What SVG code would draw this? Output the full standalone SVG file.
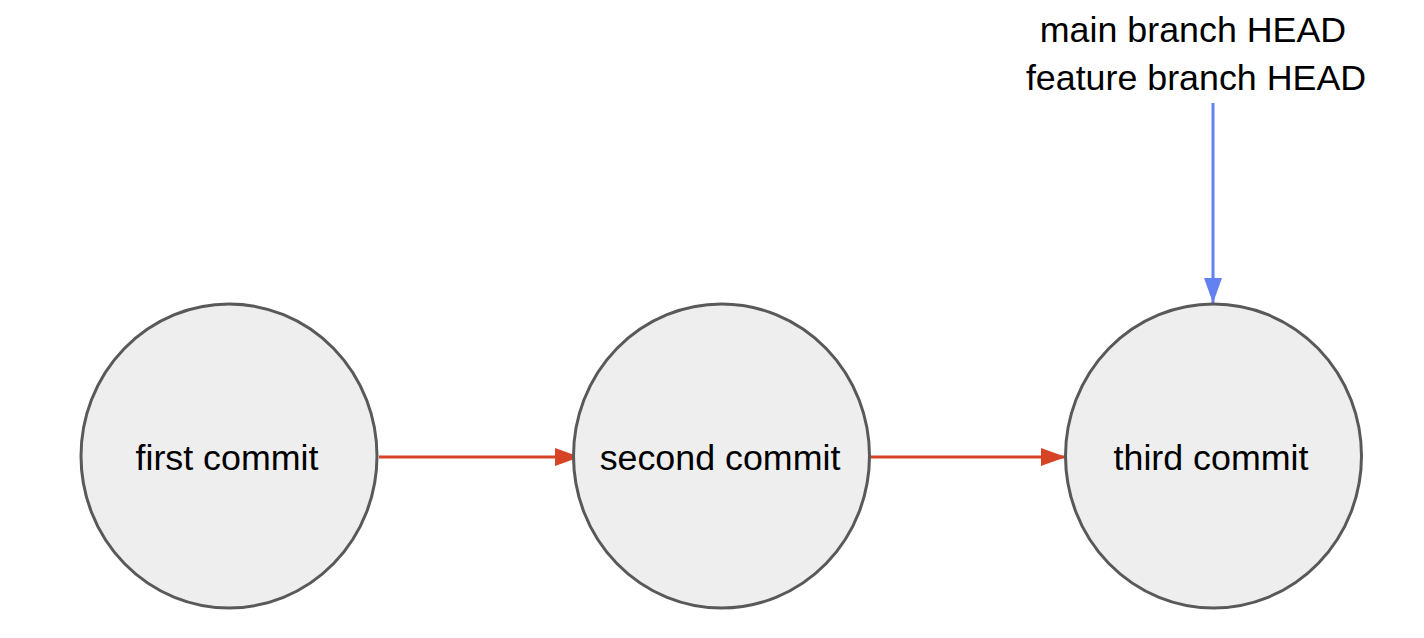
<svg xmlns="http://www.w3.org/2000/svg" width="1424" height="638" viewBox="0 0 1424 638">
<style>
.node ellipse{fill:#eeeeee;stroke:#595959;stroke-width:3}
text{font-family:"Liberation Sans",Arial,sans-serif;font-size:35.8px;fill:#000;text-anchor:middle}
.red{stroke:#d64325;stroke-width:3;fill:none}
.blue{stroke:#6381f0;stroke-width:3;fill:none}
</style>
<defs>
<marker id="ahRed" markerUnits="userSpaceOnUse" markerWidth="26" markerHeight="20" refX="25" refY="10" orient="auto">
<path d="M0,1 L25,10 L0,19 Z" fill="#d64325"/>
</marker>
<marker id="ahBlue" markerUnits="userSpaceOnUse" markerWidth="26" markerHeight="20" refX="25" refY="10" orient="auto">
<path d="M0,1 L25,10 L0,19 Z" fill="#6381f0"/>
</marker>
</defs>
<rect width="1424" height="638" fill="#fff"/>
<g id="connectors">
<line class="red" x1="379" y1="457" x2="580" y2="457" marker-end="url(#ahRed)"/>
<line class="red" x1="871" y1="457" x2="1066" y2="457" marker-end="url(#ahRed)"/>
<line class="blue" x1="1213" y1="103" x2="1213" y2="303" marker-end="url(#ahBlue)"/>
</g>
<g id="first" class="node">
<ellipse cx="229" cy="456" rx="148" ry="152"/>
<text x="227" y="470">first commit</text>
</g>
<g id="second" class="node">
<ellipse cx="721.5" cy="456" rx="148" ry="152"/>
<text x="720" y="470">second commit</text>
</g>
<g id="third" class="node">
<ellipse cx="1213.5" cy="456" rx="148" ry="152"/>
<text x="1211" y="470">third commit</text>
</g>
<g id="head-label">
<text x="1193" y="42">main branch HEAD</text>
<text x="1196" y="90">feature branch HEAD</text>
</g>
</svg>
